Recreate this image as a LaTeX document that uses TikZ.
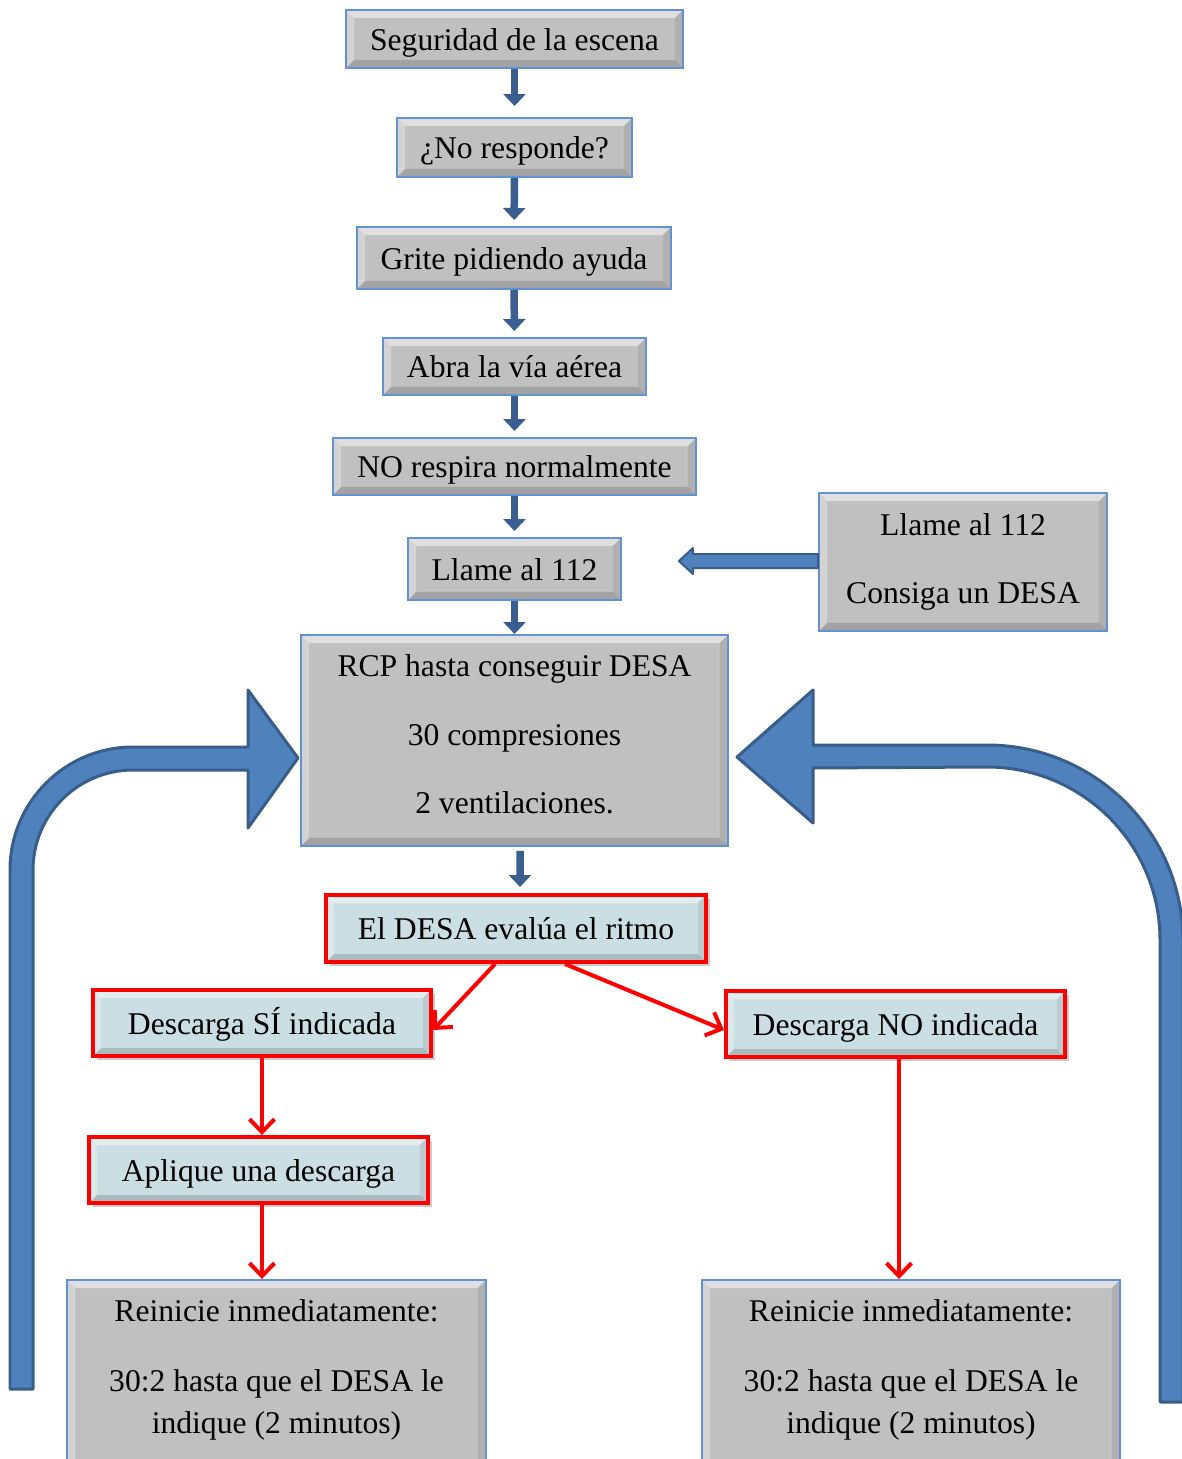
\documentclass[tikz,border=0pt]{standalone}
\usepackage{fontspec}
\setmainfont{Liberation Serif}
\usepackage{xcolor}
\usepackage{tikz}
\usetikzlibrary{positioning, calc, arrows.meta, shadows}

\definecolor{boxgray}{RGB}{192,192,192}
\definecolor{boxedge}{RGB}{98,146,212}
\definecolor{redfill}{RGB}{202,222,227}
\definecolor{arrowfill}{RGB}{79,129,189}
\definecolor{arrowedge}{RGB}{56,93,138}
\definecolor{stepblue}{RGB}{58,94,143}

\tikzset{
        bevel/.style={path picture={
                \fill[white, opacity=0.5] (path picture bounding box.north west) -- (path picture bounding box.north east) -- ([shift={(-0.16cm,-0.16cm)}]path picture bounding box.north east) -- ([shift={(0.16cm,-0.16cm)}]path picture bounding box.north west) -- cycle;
                \fill[white, opacity=0.3] (path picture bounding box.north west) -- (path picture bounding box.south west) -- ([shift={(0.16cm,0.16cm)}]path picture bounding box.south west) -- ([shift={(0.16cm,-0.16cm)}]path picture bounding box.north west) -- cycle;
                \fill[black, opacity=0.15] (path picture bounding box.south west) -- (path picture bounding box.south east) -- ([shift={(-0.16cm,0.16cm)}]path picture bounding box.south east) -- ([shift={(0.16cm,0.16cm)}]path picture bounding box.south west) -- cycle;
                \fill[black, opacity=0.08] (path picture bounding box.north east) -- (path picture bounding box.south east) -- ([shift={(-0.16cm,0.16cm)}]path picture bounding box.south east) -- ([shift={(-0.16cm,-0.16cm)}]path picture bounding box.north east) -- cycle;
        }},
        txt/.style={font=\fontsize{18}{23}\selectfont, align=center},
        oneline/.style={text height=13pt, text depth=0pt},
        graybox/.style={draw=boxedge, line width=0.04cm, fill=boxgray, bevel, txt},
        redbox/.style={draw=red, line width=0.08cm, fill=redfill, bevel, txt, oneline,
                drop shadow={shadow xshift=0.08cm, shadow yshift=-0.08cm, opacity=0.4}},
        bluestep/.style={draw=stepblue, line width=0.15cm, shorten >=0.12cm,
                -{Triangle[width=0.44cm, length=0.24cm]}},
        redstep/.style={draw=red, line width=0.08cm,
                -{Straight Barb[width=0.5cm, length=0.26cm]}},
        bigarrow/.style={fill=arrowfill, draw=arrowedge, line width=0.06cm, line join=round}
}

\begin{document}
\begin{tikzpicture}[x=0.02cm, y=-0.02cm]
        \useasboundingbox (0,0) rectangle (1182,1459);

        \node [graybox, oneline, minimum width=6.74cm, minimum height=1.16cm] (seg) at (514.5,39) {Seguridad de la escena};
        \node [graybox, oneline, minimum width=4.7cm, minimum height=1.18cm] (noresp) at (514.5,147.5) {¿No responde?};
        \node [graybox, oneline, minimum width=6.28cm, minimum height=1.24cm] (grito) at (514,258) {Grite pidiendo ayuda};
        \node [graybox, oneline, minimum width=5.26cm, minimum height=1.14cm] (abra) at (514.5,366.5) {Abra la vía aérea};
        \node [graybox, oneline, minimum width=7.26cm, minimum height=1.14cm] (norespira) at (514.5,466.5) {NO respira normalmente};
        \node [graybox, oneline, minimum width=4.26cm, minimum height=1.24cm] (llame) at (514.5,569) {Llame al 112};
        \node [graybox, minimum width=5.76cm, minimum height=2.76cm] (desa) at (963,562) {Llame al 112\\[16pt]Consiga un DESA};
        \node [graybox, minimum width=8.54cm, minimum height=4.22cm] (rcp) at (514.5,740.5) {};
        \node [txt] (rcptxt) at ($(rcp.center)+(0,-6)$) {RCP hasta conseguir DESA\\[16pt]30 compresiones\\[16pt]2 ventilaciones.};

        \node [redbox, minimum width=7.6cm, minimum height=1.34cm] (ritmo) at (516,928.5) {El DESA evalúa el ritmo};
        \node [redbox, minimum width=6.76cm, minimum height=1.32cm] (dsi) at (262,1023) {Descarga SÍ indicada};
        \node [redbox, minimum width=6.78cm, minimum height=1.32cm] (dno) at (895.5,1024) {Descarga NO indicada};
        \node [redbox, minimum width=6.78cm, minimum height=1.32cm] (aplique) at (258.5,1170) {Aplique una descarga};

        \node [graybox, minimum width=8.38cm, minimum height=4cm, anchor=north] (reinL) at (276.5,1279) {};
        \node [graybox, minimum width=8.36cm, minimum height=4cm, anchor=north] (reinR) at (911,1279) {};
        \node [txt, anchor=north] (reinLtxt) at ($(reinL.north)+(0,14)$) {Reinicie inmediatamente:\\[17pt]30:2 hasta que el DESA le\\[1pt]indique (2 minutos)};
        \node [txt, anchor=north] (reinRtxt) at ($(reinR.north)+(0,14)$) {Reinicie inmediatamente:\\[17pt]30:2 hasta que el DESA le\\[1pt]indique (2 minutos)};

        \draw [bluestep, shorten >=0.22cm] (seg) -- (noresp);
        \draw [bluestep] (noresp) -- (grito);
        \draw [bluestep] (grito) -- (abra);
        \draw [bluestep] (abra) -- (norespira);
        \draw [bluestep] (norespira) -- (llame);
        \draw [bluestep, shorten >=0cm] (llame) -- (rcp);
        \draw [bluestep, shorten <=0.08cm] ([xshift=0.11cm]rcp.south) -- ([xshift=0.08cm]ritmo.north);

        \coordinate (tipL) at ($(llame.east)+(57,-8)$);
        \coordinate (tailL) at (tipL -| desa.west);
        \filldraw [bigarrow, line width=0.04cm] ($(tailL)+(0,-7)$) -- ($(tipL)+(14,-7)$) -- ($(tipL)+(14,-13)$) -- (tipL)
                -- ($(tipL)+(14,13)$) -- ($(tipL)+(14,7)$) -- ($(tailL)+(0,7)$) -- cycle;

        \draw [redstep] ([xshift=-0.42cm]ritmo.south) -- ([yshift=-0.14cm]dsi.east);
        \draw [redstep] ([xshift=0.98cm]ritmo.south) -- ([yshift=-0.12cm]dno.west);
        \draw [redstep] (dsi.south) -- (dsi.south |- aplique.north);
        \draw [redstep] (dsi.south |- aplique.south) -- (dsi.south |- reinL.north);
        \draw [redstep] ([xshift=0.07cm]dno.south) -- ([xshift=0.07cm]dno.south |- reinR.north);

        \filldraw [bigarrow] (10,1389) -- (10,870) arc [start angle=180, end angle=270, radius=123] -- (248,747)
                -- (248,690) -- (298,758) -- (248,828) -- (248,770) -- (133,770)
                arc [start angle=270, end angle=180, radius=100] -- (33,1389) -- cycle;
        \filldraw [bigarrow] (813,745) -- (987,745) arc [start angle=270, end angle=360, radius=196] -- (1183,1402)
                -- (1160,1402) -- (1160,940) arc [start angle=0, end angle=-90, radius=173] -- (813,768)
                -- (813,823) -- (737,757) -- (813,690) -- cycle;
\end{tikzpicture}
\end{document}
